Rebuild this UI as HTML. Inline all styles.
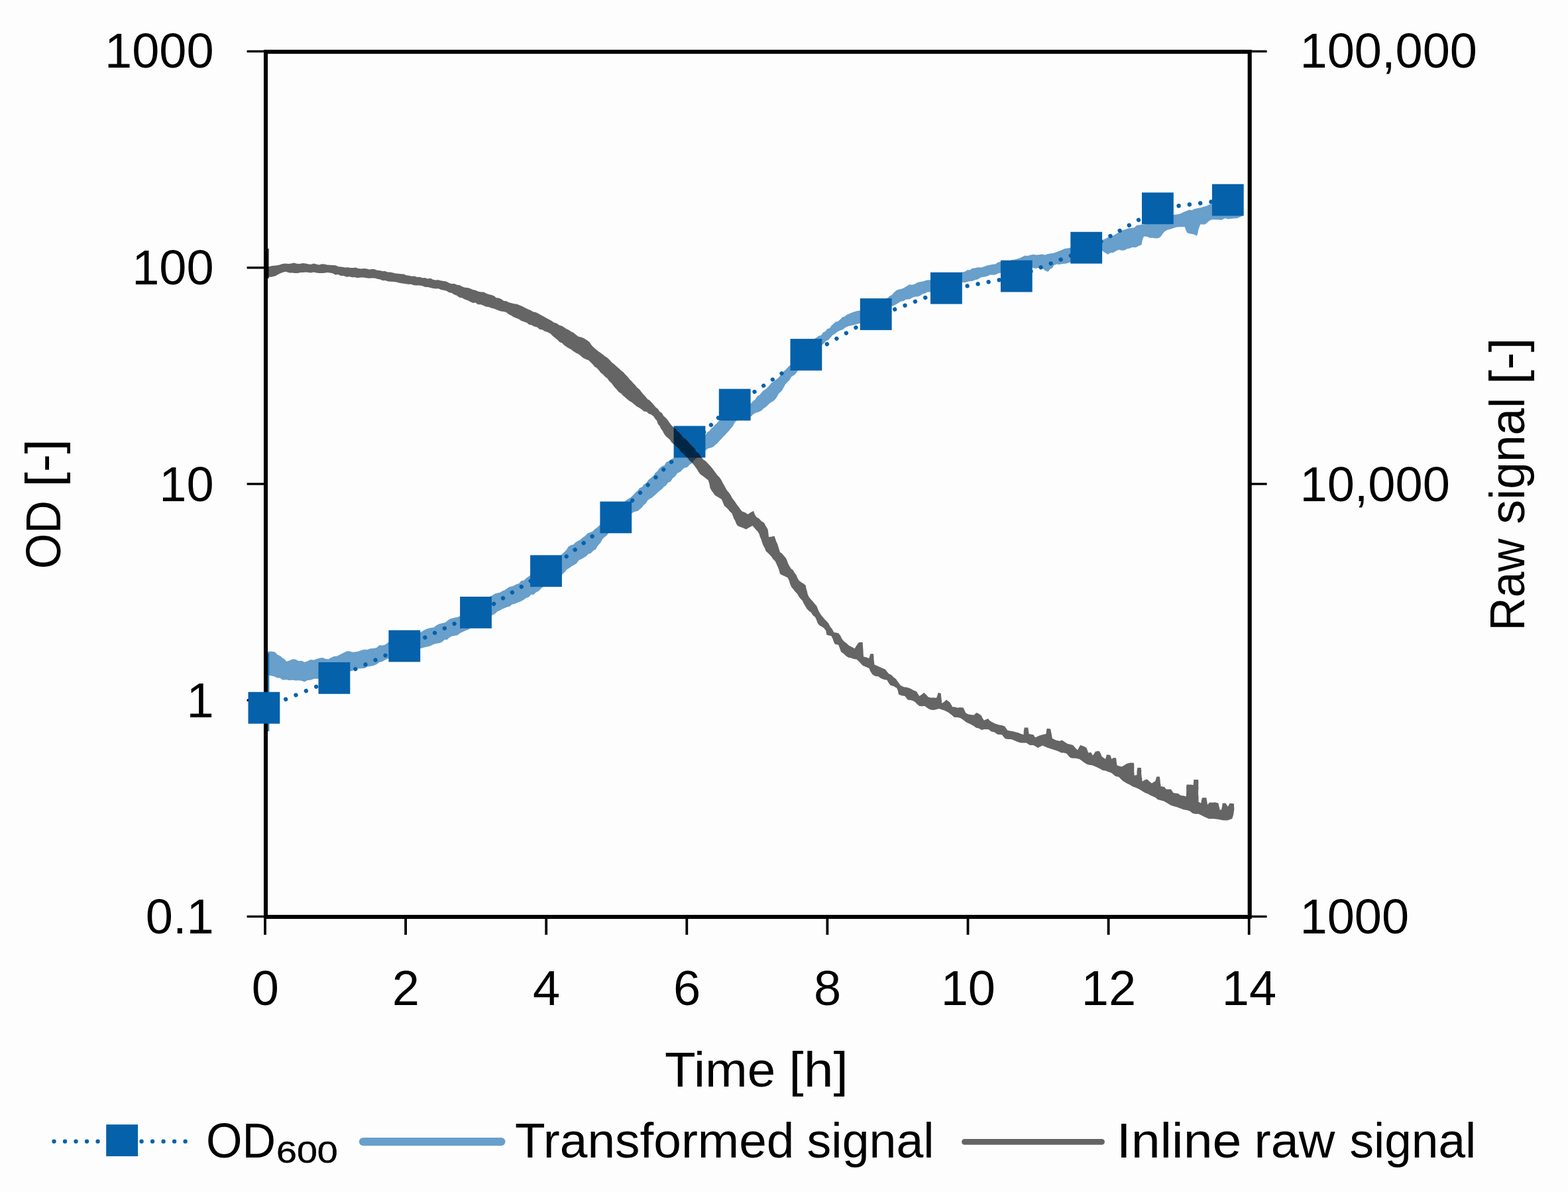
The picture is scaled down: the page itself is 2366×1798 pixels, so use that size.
<!DOCTYPE html>
<html lang="en"><head><meta charset="utf-8"><title>OD600, transformed signal and inline raw signal over time</title>
<style>html,body{margin:0;padding:0;background:#fdfdfd}body{width:2366px;height:1798px;overflow:hidden}svg{display:block}text{font-family:"Liberation Sans", sans-serif;fill:#000}</style>
</head><body>
<svg width="2366" height="1798" viewBox="0 0 2366 1798">
<rect x="0" y="0" width="2366" height="1798" fill="#fdfdfd"/>
<g id="chart">
<g id="transformed">
<path d="M404.6 1103 L404.6 985" stroke="#0561aa" stroke-opacity="0.85" stroke-width="3.4" fill="none"/>
<polygon points="403.0,983.0 405.2,982.4 409.8,982.7 414.3,983.3 418.8,987.6 423.3,989.7 426.4,992.4 429.4,994.3 432.4,997.8 437.2,996.3 441.4,994.2 445.7,994.5 450.5,996.9 455.3,996.7 459.5,998.7 463.5,997.4 468.5,995.1 473.8,995.5 478.3,993.7 483.0,992.4 486.7,992.1 491.0,993.7 495.7,994.2 499.6,991.9 504.1,990.0 508.3,989.7 512.3,987.7 515.7,986.1 519.3,984.2 522.8,982.4 527.1,982.3 532.4,983.7 536.6,983.3 540.9,982.4 545.1,980.9 549.5,979.8 554.4,980.0 559.0,978.3 563.4,978.0 568.4,977.0 572.3,973.3 577.1,973.4 581.6,972.2 586.1,968.8 590.1,968.8 594.4,965.1 598.1,965.7 602.2,962.6 606.7,963.6 610.3,960.2 614.2,958.8 618.4,959.4 622.7,957.5 627.1,955.2 631.1,953.8 635.0,953.5 639.8,950.4 644.4,948.5 649.5,947.1 654.3,946.5 659.0,943.0 663.0,940.9 667.6,939.9 672.2,938.8 677.1,934.8 680.8,933.1 685.6,931.8 690.0,931.1 694.7,929.0 697.7,926.3 701.6,923.5 705.0,921.7 708.3,919.9 711.8,919.2 715.6,916.0 718.2,912.8 722.3,912.5 725.1,908.5 729.3,907.6 732.7,904.0 735.8,903.6 738.7,900.2 742.5,898.2 746.9,895.5 750.6,894.5 754.3,893.7 758.3,891.2 761.3,890.3 765.4,887.4 768.5,885.3 772.4,884.6 776.4,883.0 779.4,881.3 783.0,880.3 786.6,876.1 790.5,875.6 794.5,871.8 799.5,868.3 802.8,865.1 806.1,863.8 810.4,861.0 813.6,860.3 817.0,857.2 819.9,853.4 824.3,850.8 827.9,850.3 831.0,846.2 834.6,845.0 838.4,842.3 841.4,839.3 845.2,838.7 848.3,835.8 851.5,832.8 854.8,829.3 857.4,824.9 861.2,822.3 865.0,821.4 868.6,817.9 871.9,815.9 875.6,814.3 879.0,811.1 882.9,808.5 886.5,804.6 890.0,803.2 894.0,801.8 897.1,798.4 900.9,795.7 904.4,792.4 907.9,789.4 910.9,785.6 913.8,782.6 916.5,781.0 919.9,778.7 923.4,775.6 925.6,771.9 929.4,769.1 932.0,766.0 935.6,765.0 938.9,761.0 941.8,757.8 944.6,754.7 947.8,752.6 951.9,750.2 954.9,747.2 958.5,743.3 962.3,739.9 965.3,736.0 968.7,734.8 971.4,730.9 975.5,728.2 978.3,723.9 982.0,721.1 985.8,718.0 988.8,713.3 992.1,710.5 995.2,706.2 999.2,703.0 1002.4,702.1 1005.6,697.0 1009.7,695.4 1012.8,693.7 1016.9,690.0 1020.4,688.1 1024.1,684.6 1026.8,681.4 1030.1,680.1 1033.8,678.6 1037.0,674.3 1040.8,673.1 1044.5,670.7 1048.2,668.7 1050.9,665.9 1054.3,662.9 1058.0,659.2 1061.1,658.6 1064.9,655.6 1067.4,652.0 1070.3,650.0 1073.0,646.5 1076.2,643.9 1079.2,640.4 1081.4,638.8 1084.8,634.8 1088.7,633.9 1092.2,629.8 1096.3,629.1 1099.7,626.4 1103.6,625.7 1107.0,623.8 1110.4,621.0 1114.8,619.2 1118.4,617.0 1122.3,613.8 1126.1,613.8 1129.6,610.6 1133.0,608.5 1136.6,604.8 1139.2,602.9 1142.5,597.7 1146.1,595.7 1149.0,592.3 1151.5,589.6 1154.5,587.7 1157.7,584.9 1161.3,581.0 1163.6,577.8 1167.0,576.0 1170.3,573.0 1173.3,570.9 1176.1,568.1 1178.7,565.1 1182.2,560.2 1185.2,557.9 1189.0,553.8 1192.4,550.7 1195.2,548.0 1198.0,545.5 1200.6,541.1 1204.0,539.4 1206.7,534.7 1209.1,533.7 1211.6,529.6 1214.7,526.5 1217.0,523.6 1220.3,521.5 1223.3,517.0 1225.8,514.4 1228.6,511.2 1231.5,509.5 1235.2,506.8 1239.0,505.7 1241.9,501.6 1245.2,500.0 1248.3,496.1 1252.0,495.0 1254.5,491.2 1257.9,488.3 1261.3,485.2 1264.1,484.9 1267.4,482.2 1270.9,478.4 1274.3,477.5 1277.8,474.7 1281.9,473.1 1286.0,471.2 1289.8,469.9 1293.4,469.0 1297.7,468.4 1301.4,466.8 1305.2,464.6 1308.7,463.3 1313.0,460.7 1316.6,460.1 1320.5,458.9 1323.9,457.2 1328.3,455.2 1331.5,453.9 1336.0,450.6 1339.3,449.4 1343.1,446.1 1345.4,445.3 1349.3,441.1 1351.9,438.6 1355.6,436.7 1359.6,436.0 1363.5,434.4 1368.2,431.8 1371.8,429.3 1376.7,429.5 1380.0,428.7 1384.5,425.9 1389.6,425.0 1394.4,424.1 1398.6,422.4 1403.9,422.3 1407.4,420.3 1411.9,420.5 1415.5,419.5 1419.6,417.5 1424.4,418.3 1427.4,417.5 1432.3,414.3 1436.1,414.3 1439.8,413.0 1443.7,412.5 1447.3,411.7 1451.8,410.5 1456.1,409.8 1459.6,407.2 1463.5,407.3 1467.1,404.7 1471.4,404.2 1475.4,403.3 1480.8,403.4 1485.4,402.0 1489.5,400.6 1493.4,399.8 1497.6,398.7 1501.9,398.6 1506.1,395.6 1509.7,395.1 1514.3,395.0 1518.3,394.4 1523.1,393.8 1527.0,392.0 1531.2,391.5 1534.7,390.6 1538.3,389.5 1542.6,387.4 1546.3,385.5 1550.5,386.1 1554.3,384.7 1559.3,383.7 1563.2,384.5 1567.9,384.2 1572.3,383.6 1577.0,384.5 1581.4,382.9 1586.2,382.3 1590.0,381.8 1595.2,379.8 1599.5,378.3 1603.3,376.5 1607.0,374.9 1610.9,374.6 1615.2,373.8 1619.6,372.2 1623.2,372.0 1627.3,372.1 1631.3,371.2 1634.8,369.7 1639.5,368.2 1643.6,365.7 1647.2,365.0 1651.2,364.1 1654.7,364.3 1659.1,364.1 1663.2,362.0 1667.7,360.3 1671.8,358.1 1676.5,357.0 1680.9,354.8 1684.7,352.4 1687.6,350.7 1691.3,348.7 1695.6,346.7 1699.0,345.8 1703.4,344.3 1706.5,344.0 1711.4,343.4 1715.4,339.8 1718.9,339.5 1722.9,338.5 1726.6,338.5 1731.3,336.1 1734.8,335.5 1739.2,334.9 1742.5,332.7 1746.8,331.6 1750.4,329.3 1754.4,328.9 1759.0,327.5 1762.6,326.3 1766.7,325.4 1770.8,324.0 1775.5,323.4 1780.6,322.6 1784.6,320.6 1789.5,318.6 1794.4,316.5 1798.7,317.1 1802.8,314.9 1807.6,314.1 1811.9,313.3 1816.2,311.8 1819.9,311.0 1825.0,308.4 1828.7,307.8 1833.4,308.2 1836.8,305.2 1841.5,305.1 1845.5,305.3 1849.8,304.4 1854.7,302.5 1858.9,303.0 1863.1,301.8 1867.2,300.7 1872.1,301.3 1876.0,300.0 1876.0,325.0 1870.9,327.6 1866.5,329.2 1861.8,329.5 1856.9,329.9 1853.0,330.4 1848.7,329.3 1843.4,331.7 1839.2,331.6 1834.7,331.3 1828.7,331.3 1825.0,332.8 1821.9,335.6 1818.4,338.5 1811.2,338.5 1809.5,342.9 1808.1,347.5 1807.2,352.5 1805.7,355.7 1801.4,353.4 1796.0,352.5 1791.3,351.2 1789.5,347.2 1787.7,342.2 1784.0,342.2 1779.4,342.3 1774.9,342.8 1770.8,344.0 1765.8,345.7 1761.5,346.7 1756.9,349.4 1754.0,353.2 1751.3,357.3 1747.9,359.3 1743.8,359.5 1739.1,358.7 1734.8,358.8 1730.9,357.1 1726.1,356.6 1724.5,359.7 1723.4,364.3 1722.5,369.3 1718.0,371.1 1713.8,373.2 1708.5,372.9 1704.4,374.7 1700.8,375.3 1696.7,377.4 1692.6,377.7 1688.4,376.7 1684.5,378.3 1679.8,381.3 1675.7,381.2 1671.9,383.8 1667.8,381.5 1663.2,378.3 1659.6,379.3 1654.7,382.3 1651.0,383.6 1647.0,385.1 1643.7,385.5 1639.2,387.1 1635.0,388.1 1631.2,388.7 1627.1,391.5 1622.7,391.8 1619.1,394.7 1615.2,395.5 1610.9,396.9 1607.3,397.7 1603.1,397.9 1598.5,398.9 1594.5,398.5 1590.5,400.0 1588.0,404.3 1584.8,405.8 1581.4,410.0 1576.7,408.1 1572.0,403.7 1566.9,404.0 1562.2,404.9 1557.9,403.7 1553.4,403.4 1549.4,404.4 1545.7,406.0 1542.2,406.7 1538.1,407.0 1534.1,408.3 1529.7,407.5 1526.3,409.2 1521.8,410.2 1517.2,411.2 1513.6,411.7 1509.7,411.4 1505.7,412.6 1502.0,414.5 1497.6,414.7 1494.0,414.6 1489.5,416.8 1484.9,417.8 1480.4,418.3 1475.9,421.3 1471.4,422.3 1466.9,424.1 1461.3,424.4 1456.3,426.1 1451.8,425.9 1447.8,426.5 1444.1,428.5 1440.1,430.6 1435.5,430.4 1431.9,433.1 1428.3,434.1 1423.6,433.4 1420.3,435.8 1415.9,436.5 1412.2,437.0 1407.5,438.7 1403.9,440.4 1399.7,440.4 1395.8,442.6 1392.1,443.5 1388.5,446.1 1384.4,447.4 1380.9,447.6 1377.0,448.8 1372.5,451.5 1367.4,451.4 1363.4,453.9 1359.2,454.8 1354.8,457.6 1350.1,460.2 1345.6,462.0 1341.9,463.3 1338.5,466.5 1334.4,467.8 1330.7,471.0 1327.1,473.0 1323.5,474.0 1320.0,476.0 1315.8,476.9 1312.8,479.0 1308.7,480.7 1305.2,484.8 1301.7,484.8 1297.7,487.4 1292.9,489.1 1288.6,490.3 1284.7,490.9 1280.5,492.0 1276.0,493.7 1271.7,497.3 1267.7,498.4 1263.6,500.4 1259.7,503.7 1256.4,505.6 1253.3,509.1 1250.0,513.1 1246.9,514.1 1243.7,517.5 1240.7,520.0 1237.9,523.2 1234.6,526.5 1232.3,528.1 1229.1,531.6 1226.6,536.4 1223.5,537.4 1220.7,541.1 1217.4,544.1 1214.8,547.8 1211.6,550.5 1209.6,554.5 1206.1,556.2 1203.3,559.7 1200.6,563.9 1197.5,566.3 1194.0,568.4 1191.4,573.2 1188.7,575.8 1185.2,579.6 1182.6,584.3 1180.6,588.1 1178.4,590.7 1175.1,593.4 1172.9,597.8 1170.7,601.3 1167.0,604.9 1163.2,607.0 1160.3,609.3 1155.7,614.1 1152.6,615.8 1148.9,619.5 1145.2,621.2 1141.0,622.4 1136.7,624.7 1133.0,628.5 1128.1,628.7 1123.8,629.9 1119.4,633.2 1115.7,633.8 1111.0,634.8 1108.2,638.1 1105.8,642.9 1103.0,646.1 1100.1,649.8 1097.2,652.7 1094.7,655.6 1091.7,658.4 1088.6,662.0 1085.6,665.0 1082.6,668.4 1079.8,670.8 1076.6,673.7 1072.6,675.6 1069.0,676.3 1064.9,679.1 1062.0,682.9 1058.7,684.0 1055.6,687.1 1053.2,689.6 1049.6,692.0 1046.8,694.9 1044.0,699.0 1040.8,700.7 1037.1,704.8 1032.8,705.7 1029.8,708.3 1026.3,712.1 1022.4,713.5 1018.4,719.0 1015.4,721.0 1011.8,726.6 1008.2,727.8 1004.8,732.5 1001.7,734.6 998.5,738.1 994.8,740.8 991.0,744.2 987.5,747.5 984.1,750.6 980.4,752.6 977.5,754.6 974.2,759.7 971.7,761.4 968.4,765.8 965.1,768.5 962.3,770.7 957.3,771.9 953.3,774.3 950.1,776.4 946.5,779.4 943.6,782.7 940.3,786.0 937.1,788.7 934.2,792.2 931.1,794.2 927.6,797.3 924.5,798.7 921.6,803.1 918.1,804.3 915.3,808.0 911.7,810.5 909.1,813.2 906.8,817.7 904.5,820.6 901.5,824.1 899.0,828.5 895.2,830.7 891.2,834.7 888.0,835.4 884.4,839.1 880.9,841.2 876.9,843.6 873.6,845.1 869.9,850.0 866.6,852.0 862.8,853.9 859.4,856.6 855.1,859.3 852.1,862.9 848.3,866.5 844.8,868.1 841.4,871.4 838.1,872.2 834.8,875.5 831.4,878.7 827.6,879.4 824.0,881.7 821.3,884.3 817.6,886.4 813.5,891.1 808.5,893.7 805.2,896.9 801.5,896.8 797.8,900.8 794.0,901.9 790.5,904.5 786.1,907.1 781.9,908.4 776.8,910.7 772.4,911.8 769.3,914.7 765.3,915.6 762.0,917.0 757.7,918.8 754.3,920.8 750.8,922.2 746.6,926.1 742.5,928.0 738.7,929.5 735.1,932.7 732.1,934.3 728.9,935.7 725.3,937.8 721.0,941.5 718.3,941.9 714.4,944.5 710.8,946.0 707.4,949.6 703.7,950.8 699.5,952.4 694.2,954.9 690.6,958.1 685.6,958.9 682.1,959.5 677.9,961.8 674.6,965.0 671.0,964.8 667.6,967.9 663.5,970.1 658.2,970.7 654.5,971.8 649.5,974.3 645.1,975.5 640.3,976.6 635.0,977.9 630.7,978.4 626.8,979.3 622.9,981.3 618.5,981.8 614.8,983.5 610.6,984.6 606.8,986.6 602.3,987.4 598.3,989.3 594.6,989.5 590.2,992.8 586.1,993.3 581.6,995.2 577.1,997.8 572.3,999.0 568.0,1002.3 563.7,1004.1 559.0,1005.0 554.3,1005.5 550.1,1008.0 545.9,1008.3 540.9,1008.6 536.5,1009.5 533.1,1011.3 529.2,1012.3 525.0,1013.0 521.4,1013.4 516.5,1015.7 512.6,1016.5 508.6,1016.2 504.7,1017.1 501.1,1020.4 496.2,1020.1 493.0,1019.9 487.9,1022.9 484.3,1022.6 480.3,1024.0 474.6,1023.8 468.5,1025.8 464.3,1026.0 459.5,1028.5 455.4,1026.9 450.4,1026.2 446.1,1026.6 441.4,1025.8 436.7,1026.3 432.1,1025.2 426.9,1025.8 422.6,1022.7 418.1,1022.6 414.3,1020.4 409.9,1019.4 405.2,1018.6 403.0,1018.0" fill="#0561aa" fill-opacity="0.6" stroke-linejoin="round"/>
</g>
<g id="axes" stroke="#000" fill="none">
<rect x="401.0" y="78.1" width="1484.7" height="1304.9" stroke-width="6.1"/>
<line x1="372.6" y1="77.5" x2="401.0" y2="77.5" stroke-width="3.4"/>
<line x1="1885.7" y1="77.5" x2="1911.6" y2="77.5" stroke-width="3.4"/>
<line x1="372.6" y1="403.8" x2="401.0" y2="403.8" stroke-width="3.4"/>
<line x1="372.6" y1="730.0" x2="401.0" y2="730.0" stroke-width="3.4"/>
<line x1="1885.7" y1="730.0" x2="1911.6" y2="730.0" stroke-width="3.4"/>
<line x1="372.6" y1="1056.2" x2="401.0" y2="1056.2" stroke-width="3.4"/>
<line x1="372.6" y1="1382.5" x2="401.0" y2="1382.5" stroke-width="3.4"/>
<line x1="1885.7" y1="1382.5" x2="1911.6" y2="1382.5" stroke-width="3.4"/>
<line x1="400.0" y1="1383.0" x2="400.0" y2="1410" stroke-width="3.8"/>
<line x1="612.1" y1="1383.0" x2="612.1" y2="1410" stroke-width="3.8"/>
<line x1="824.2" y1="1383.0" x2="824.2" y2="1410" stroke-width="3.8"/>
<line x1="1036.3" y1="1383.0" x2="1036.3" y2="1410" stroke-width="3.8"/>
<line x1="1248.4" y1="1383.0" x2="1248.4" y2="1410" stroke-width="3.8"/>
<line x1="1460.5" y1="1383.0" x2="1460.5" y2="1410" stroke-width="3.8"/>
<line x1="1672.6" y1="1383.0" x2="1672.6" y2="1410" stroke-width="3.8"/>
<line x1="1884.7" y1="1383.0" x2="1884.7" y2="1410" stroke-width="3.8"/>
</g>
<g id="od600">
<line x1="415.8" y1="1061.1" x2="492.4" y2="1029.5" stroke="#0561aa" stroke-width="6.3" stroke-linecap="round" stroke-dasharray="0.01 16.58"/>
<line x1="521.3" y1="1016.0" x2="596.7" y2="981.9" stroke="#0561aa" stroke-width="6.3" stroke-linecap="round" stroke-dasharray="0.01 16.53"/>
<line x1="626.5" y1="968.5" x2="700.4" y2="933.9" stroke="#0561aa" stroke-width="6.3" stroke-linecap="round" stroke-dasharray="0.01 16.30"/>
<line x1="731.3" y1="919.5" x2="800.7" y2="876.4" stroke="#0561aa" stroke-width="6.3" stroke-linecap="round" stroke-dasharray="0.01 16.32"/>
<line x1="841.7" y1="849.5" x2="906.6" y2="798.9" stroke="#0561aa" stroke-width="6.3" stroke-linecap="round" stroke-dasharray="0.01 16.45"/>
<line x1="942.4" y1="766.5" x2="1024.8" y2="685.1" stroke="#0561aa" stroke-width="6.3" stroke-linecap="round" stroke-dasharray="0.01 16.54"/>
<line x1="1062.1" y1="651.9" x2="1094.8" y2="619.5" stroke="#0561aa" stroke-width="6.3" stroke-linecap="round" stroke-dasharray="0.01 15.33"/>
<line x1="1124.9" y1="600.2" x2="1193.0" y2="554.1" stroke="#0561aa" stroke-width="6.3" stroke-linecap="round" stroke-dasharray="0.01 16.46"/>
<line x1="1233.4" y1="527.4" x2="1305.9" y2="485.8" stroke="#0561aa" stroke-width="6.3" stroke-linecap="round" stroke-dasharray="0.01 16.71"/>
<line x1="1334.8" y1="472.5" x2="1411.7" y2="443.1" stroke="#0561aa" stroke-width="6.3" stroke-linecap="round" stroke-dasharray="0.01 16.44"/>
<line x1="1443.6" y1="434.3" x2="1523.6" y2="419.3" stroke="#0561aa" stroke-width="6.3" stroke-linecap="round" stroke-dasharray="0.01 16.27"/>
<line x1="1555.5" y1="409.2" x2="1630.9" y2="379.7" stroke="#0561aa" stroke-width="6.3" stroke-linecap="round" stroke-dasharray="0.01 16.17"/>
<line x1="1661.3" y1="364.2" x2="1732.2" y2="323.6" stroke="#0561aa" stroke-width="6.3" stroke-linecap="round" stroke-dasharray="0.01 16.33"/>
<line x1="1762.3" y1="312.5" x2="1843.8" y2="302.5" stroke="#0561aa" stroke-width="6.3" stroke-linecap="round" stroke-dasharray="0.01 16.41"/>
<rect x="374.5" y="1043.8" width="47.8" height="47.8" fill="#0561aa"/>
<rect x="480.5" y="998.9" width="47.8" height="47.8" fill="#0561aa"/>
<rect x="586.4" y="950.6" width="47.8" height="47.8" fill="#0561aa"/>
<rect x="694.1" y="900.0" width="47.8" height="47.8" fill="#0561aa"/>
<rect x="800.1" y="837.4" width="47.8" height="47.8" fill="#0561aa"/>
<rect x="905.4" y="756.5" width="47.8" height="47.8" fill="#0561aa"/>
<rect x="1016.6" y="642.5" width="47.8" height="47.8" fill="#0561aa"/>
<rect x="1084.8" y="586.6" width="47.8" height="47.8" fill="#0561aa"/>
<rect x="1192.5" y="511.1" width="47.8" height="47.8" fill="#0561aa"/>
<rect x="1297.8" y="450.1" width="47.8" height="47.8" fill="#0561aa"/>
<rect x="1404.0" y="410.8" width="47.8" height="47.8" fill="#0561aa"/>
<rect x="1509.9" y="392.7" width="47.8" height="47.8" fill="#0561aa"/>
<rect x="1615.3" y="349.8" width="47.8" height="47.8" fill="#0561aa"/>
<rect x="1723.0" y="290.4" width="47.8" height="47.8" fill="#0561aa"/>
<rect x="1828.9" y="277.7" width="47.8" height="47.8" fill="#0561aa"/>
</g>
<g id="raw">
<path d="M404.4 375 L404.4 420" stroke="#000" stroke-opacity="0.8" stroke-width="2.6" fill="none"/>
<polygon points="403.0,402.4 404.4,402.4 410.4,400.9 416.2,400.6 421.0,399.8 426.1,398.0 430.7,397.5 435.1,398.1 439.3,397.5 443.8,396.6 447.9,397.7 452.4,398.0 456.7,397.0 461.4,397.5 465.6,398.6 469.5,398.7 473.3,397.4 477.2,398.5 481.4,399.5 485.8,398.3 489.9,398.5 493.6,399.4 497.6,399.7 502.1,400.0 506.3,400.3 511.0,402.2 515.5,402.6 520.5,403.5 524.7,403.3 528.9,404.1 532.9,404.0 536.7,403.5 540.6,405.1 545.1,405.6 548.7,404.9 552.8,405.3 556.8,406.6 560.9,406.0 564.6,405.9 569.3,407.8 573.0,408.1 577.2,408.9 581.1,409.1 585.1,410.4 588.8,410.4 593.4,411.4 597.1,412.4 601.2,412.7 604.9,413.3 609.4,413.4 613.1,415.3 617.3,415.7 621.6,416.7 625.6,416.4 629.3,418.0 633.3,417.8 637.3,419.2 641.2,419.0 645.1,420.6 649.6,419.8 653.4,421.8 657.1,422.6 661.3,422.3 665.2,423.3 669.5,424.1 673.4,424.4 677.9,427.0 681.5,427.9 685.9,428.1 689.7,429.7 693.4,429.9 697.8,432.5 701.7,433.7 705.6,434.1 709.7,435.2 713.5,437.1 717.5,437.8 721.3,439.4 726.0,440.4 729.8,440.4 734.0,442.8 737.6,443.9 741.8,444.9 745.8,446.5 748.8,449.2 752.4,449.5 756.3,451.1 760.0,453.7 764.3,454.2 767.9,456.2 772.1,457.2 776.1,458.2 780.1,458.8 784.4,460.5 788.6,462.2 792.2,464.3 796.9,466.5 800.7,468.0 804.8,470.4 808.4,471.0 812.5,473.0 816.3,475.2 820.2,477.3 823.6,479.3 827.8,481.6 831.7,483.4 835.8,486.4 840.1,487.7 843.8,490.5 848.2,491.7 851.6,494.0 855.3,496.4 858.5,497.8 861.8,500.3 865.3,501.7 868.5,504.6 872.8,507.7 877.7,508.7 881.5,510.5 886.2,513.4 889.5,515.9 892.3,520.3 895.0,523.3 898.4,526.3 902.0,529.3 905.6,531.8 909.3,534.5 912.6,537.3 916.3,539.6 920.0,543.0 923.5,547.0 926.9,549.4 930.1,552.5 933.7,555.5 937.4,559.1 940.4,561.3 944.0,565.2 947.2,568.4 950.1,572.2 952.8,574.7 955.6,577.9 958.1,580.6 961.3,584.4 964.5,586.9 967.3,590.6 970.3,594.2 974.0,598.2 976.7,601.8 980.4,604.0 983.9,607.7 986.6,610.7 989.4,614.2 993.0,616.9 995.5,620.9 998.8,622.9 1001.2,627.2 1004.3,630.0 1007.5,633.4 1010.3,637.7 1013.4,641.8 1016.6,644.7 1019.8,647.2 1022.6,649.9 1025.4,652.9 1028.2,655.9 1031.2,660.1 1034.2,662.1 1036.8,664.7 1040.0,668.0 1042.5,670.9 1045.6,673.7 1048.2,676.6 1050.8,681.4 1053.3,682.8 1056.0,686.0 1058.6,690.0 1061.6,693.5 1064.9,695.4 1067.9,698.7 1071.4,702.5 1074.3,705.7 1076.9,709.2 1080.3,713.7 1082.6,716.9 1085.7,720.0 1088.6,724.3 1090.5,728.3 1093.1,732.7 1095.3,736.8 1097.1,740.0 1099.7,742.7 1102.4,746.4 1104.8,751.2 1107.1,754.3 1109.4,757.2 1112.3,761.7 1114.8,764.8 1117.3,768.5 1120.0,771.4 1124.2,773.1 1128.6,775.7 1132.9,772.8 1137.1,770.7 1138.9,776.1 1141.4,780.0 1145.2,782.1 1148.8,786.1 1152.9,788.6 1155.4,793.2 1158.6,798.6 1159.3,803.5 1160.0,810.0 1164.4,809.6 1168.6,808.6 1169.7,811.9 1171.5,817.2 1173.0,820.2 1174.3,824.3 1175.7,829.0 1177.1,832.9 1180.2,835.0 1182.5,838.1 1185.7,841.4 1187.6,845.4 1189.3,850.2 1191.4,854.3 1193.9,857.9 1196.7,860.1 1199.2,864.5 1201.4,867.1 1203.3,871.7 1205.7,875.7 1209.3,878.6 1212.7,880.6 1215.7,882.9 1216.6,888.0 1217.9,892.2 1218.6,895.7 1220.5,900.2 1223.1,903.6 1226.3,906.9 1229.6,911.0 1232.6,914.4 1234.4,919.4 1236.6,923.9 1239.3,927.9 1241.8,931.1 1244.8,934.6 1247.7,937.4 1250.2,940.2 1252.8,945.4 1255.5,948.5 1258.3,953.8 1265.1,955.1 1267.9,958.6 1270.5,963.8 1273.3,967.3 1277.0,970.0 1281.4,974.1 1285.6,976.0 1289.6,978.2 1293.1,972.6 1296.3,968.7 1301.8,968.7 1301.8,972.5 1302.3,978.1 1302.6,982.4 1302.7,985.4 1303.1,990.4 1307.3,991.6 1311.3,993.1 1313.3,986.3 1318.0,986.3 1318.5,990.9 1318.5,994.7 1319.0,998.4 1319.4,1002.6 1324.0,1004.6 1328.9,1006.7 1335.7,1009.4 1338.4,1012.9 1341.1,1016.2 1345.0,1018.1 1348.6,1021.8 1352.0,1024.3 1355.6,1029.5 1358.8,1033.8 1363.7,1036.3 1368.4,1036.8 1373.7,1038.6 1378.5,1041.2 1383.2,1043.3 1387.2,1050.1 1391.0,1047.5 1394.0,1044.7 1397.2,1047.6 1400.8,1051.5 1405.1,1052.4 1408.6,1052.3 1413.0,1052.8 1414.6,1048.5 1415.7,1044.7 1419.8,1046.0 1420.2,1051.0 1420.8,1055.8 1421.2,1061.0 1424.7,1058.4 1428.0,1055.5 1433.4,1059.6 1437.4,1066.4 1440.0,1066.3 1444.7,1067.4 1448.9,1066.9 1453.6,1067.6 1455.8,1072.2 1457.6,1075.8 1461.5,1077.5 1466.1,1078.2 1469.9,1078.5 1473.2,1075.1 1476.8,1076.4 1480.7,1079.2 1482.5,1083.1 1484.8,1086.6 1490.9,1083.9 1493.8,1087.2 1497.0,1089.3 1502.3,1091.7 1507.8,1093.4 1511.7,1093.9 1516.0,1095.5 1520.1,1101.6 1524.3,1102.5 1528.4,1102.9 1532.3,1104.3 1536.5,1105.3 1540.2,1106.7 1544.5,1108.3 1544.8,1102.3 1545.8,1097.5 1551.3,1097.5 1551.9,1102.6 1552.6,1107.0 1559.4,1108.3 1562.1,1112.4 1567.8,1109.7 1573.0,1108.3 1578.4,1107.0 1578.8,1103.2 1579.8,1098.8 1585.2,1099.5 1586.2,1104.7 1587.0,1108.9 1587.9,1113.8 1593.3,1116.6 1598.8,1117.8 1602.8,1116.5 1607.0,1119.4 1611.0,1121.9 1614.9,1122.7 1619.1,1123.9 1622.6,1128.1 1625.9,1131.4 1628.0,1127.6 1630.0,1123.9 1635.0,1125.5 1639.5,1128.0 1642.2,1135.5 1646.2,1134.8 1649.0,1139.6 1653.0,1133.4 1658.5,1132.8 1660.6,1136.0 1662.5,1140.9 1668.0,1145.0 1670.0,1138.2 1675.4,1138.9 1677.4,1145.0 1680.2,1142.9 1684.2,1143.6 1684.7,1149.0 1685.6,1154.5 1692.4,1156.5 1696.5,1154.3 1700.5,1151.8 1705.7,1150.6 1710.9,1150.8 1711.3,1154.9 1711.2,1160.0 1711.2,1164.5 1711.8,1169.8 1715.4,1168.9 1715.6,1162.9 1716.3,1158.0 1721.7,1158.0 1722.3,1162.4 1722.1,1165.8 1722.5,1170.5 1723.3,1174.5 1723.5,1178.8 1727.3,1176.5 1730.8,1175.2 1734.1,1178.5 1738.0,1181.6 1743.4,1178.0 1745.2,1171.6 1749.8,1171.6 1750.5,1176.0 1750.8,1180.5 1751.6,1186.1 1757.0,1187.0 1759.7,1190.6 1766.9,1190.6 1770.6,1196.0 1777.8,1196.9 1781.4,1199.7 1786.8,1200.6 1789.6,1201.5 1790.1,1197.1 1790.2,1192.5 1790.1,1187.0 1790.5,1183.4 1797.7,1183.4 1800.4,1184.3 1801.1,1179.9 1801.3,1176.1 1808.1,1176.1 1808.4,1180.0 1808.2,1183.6 1808.4,1189.4 1808.1,1193.0 1808.0,1197.8 1808.6,1202.1 1808.5,1205.8 1808.5,1209.6 1812.2,1211.4 1813.0,1206.7 1814.0,1203.3 1820.3,1203.3 1821.3,1209.0 1822.1,1214.1 1824.8,1210.5 1829.6,1210.6 1833.7,1210.3 1838.4,1211.4 1839.4,1215.7 1840.7,1221.4 1842.9,1221.4 1844.0,1216.9 1844.7,1211.4 1849.3,1211.4 1852.9,1216.8 1855.6,1211.4 1861.9,1212.3 1862.0,1215.8 1862.4,1220.5 1861.0,1229.5 1859.2,1234.9 1852.0,1237.6 1844.7,1237.2 1840.2,1236.3 1835.7,1235.4 1830.0,1234.9 1823.9,1234.9 1817.6,1232.2 1812.8,1229.8 1808.5,1227.7 1803.8,1227.8 1799.5,1226.8 1795.0,1223.2 1790.8,1222.0 1786.1,1221.3 1781.4,1219.6 1776.2,1217.6 1770.6,1215.9 1766.3,1214.5 1761.5,1211.4 1756.3,1208.4 1750.7,1206.9 1746.9,1206.0 1743.6,1202.9 1739.6,1201.3 1736.2,1199.7 1731.8,1197.3 1728.0,1196.1 1723.5,1193.3 1718.6,1190.2 1713.6,1187.9 1708.8,1186.3 1704.4,1183.5 1700.0,1181.6 1693.7,1177.5 1688.3,1172.1 1682.9,1170.8 1677.4,1166.0 1673.2,1164.6 1668.1,1162.5 1663.9,1161.9 1660.1,1159.7 1655.5,1157.6 1651.7,1155.8 1647.8,1154.3 1643.2,1153.7 1639.5,1152.4 1635.9,1150.3 1632.4,1147.6 1628.6,1145.0 1623.8,1143.8 1619.5,1143.7 1615.0,1142.9 1612.1,1139.9 1609.6,1136.8 1605.2,1135.5 1601.5,1135.5 1596.4,1133.1 1592.0,1131.4 1586.4,1129.7 1581.1,1128.0 1576.8,1126.3 1573.0,1124.6 1566.2,1128.0 1559.4,1123.9 1554.0,1123.9 1548.5,1120.6 1544.4,1120.6 1540.4,1120.6 1535.2,1118.9 1529.6,1116.5 1525.7,1114.9 1521.6,1115.0 1517.3,1114.5 1514.3,1111.6 1511.9,1108.3 1505.1,1107.7 1500.6,1104.4 1495.9,1103.5 1491.6,1100.2 1486.5,1100.1 1480.7,1100.9 1476.9,1098.6 1473.3,1098.0 1469.9,1095.5 1465.7,1093.1 1461.4,1091.0 1457.6,1089.3 1453.7,1086.0 1449.5,1083.2 1444.9,1082.1 1440.0,1081.9 1436.1,1078.6 1430.7,1074.5 1426.0,1072.0 1421.5,1070.6 1417.1,1069.1 1413.2,1070.0 1409.0,1071.1 1404.9,1070.8 1400.8,1069.1 1395.4,1065.0 1391.1,1065.3 1387.2,1065.0 1383.8,1062.1 1380.8,1059.1 1377.7,1056.9 1373.4,1055.9 1369.6,1055.5 1365.5,1050.1 1360.5,1049.3 1356.0,1047.4 1354.9,1042.3 1353.3,1037.9 1348.3,1035.0 1343.8,1033.8 1341.1,1030.4 1338.4,1025.7 1333.7,1024.9 1328.9,1023.0 1325.1,1020.3 1320.9,1020.1 1316.7,1017.5 1313.8,1013.5 1311.3,1008.0 1306.2,1005.8 1301.8,1004.0 1298.4,1000.3 1295.4,996.9 1292.3,994.5 1288.1,994.0 1284.3,992.4 1280.1,991.8 1276.6,989.6 1273.0,985.9 1269.2,983.6 1266.9,977.3 1265.1,972.8 1259.7,971.4 1257.7,967.3 1256.3,962.9 1254.3,959.2 1247.5,957.8 1246.1,951.1 1243.3,947.5 1240.1,945.3 1236.7,943.5 1233.9,940.2 1232.0,935.1 1229.9,930.7 1226.7,928.3 1223.8,923.8 1220.6,921.5 1217.6,918.5 1215.7,915.2 1212.9,910.4 1210.9,906.3 1208.3,903.6 1205.5,900.3 1203.0,895.5 1200.0,892.7 1197.2,888.9 1194.3,885.7 1192.1,880.8 1190.7,875.7 1188.6,871.4 1184.9,869.4 1180.8,867.8 1177.1,865.7 1176.0,861.8 1174.5,857.1 1172.6,853.1 1171.4,850.0 1169.3,846.1 1166.5,843.5 1164.3,840.0 1161.6,837.0 1158.5,833.8 1155.7,831.4 1153.8,826.4 1151.7,822.8 1150.0,818.6 1148.5,813.6 1146.9,810.0 1145.7,805.7 1143.5,801.9 1140.9,799.2 1137.8,795.7 1135.7,792.9 1130.8,795.5 1125.7,798.6 1121.2,796.2 1117.3,795.1 1112.9,792.9 1110.9,789.7 1109.3,785.6 1107.4,782.2 1105.8,777.9 1104.3,774.3 1101.3,771.6 1098.9,768.4 1096.0,765.5 1092.9,762.9 1090.8,757.4 1088.6,752.9 1083.7,750.1 1078.6,747.1 1076.3,743.4 1073.6,740.0 1071.4,735.7 1070.3,729.6 1068.6,724.3 1065.0,721.5 1061.2,718.4 1057.1,715.7 1054.4,712.2 1052.0,708.3 1049.9,705.3 1047.1,701.4 1043.5,697.2 1040.3,694.6 1036.8,690.0 1033.6,687.4 1031.1,684.2 1027.9,681.9 1025.2,677.9 1022.1,674.8 1019.3,672.6 1016.6,670.0 1013.6,667.4 1010.6,662.9 1007.5,660.5 1004.3,657.4 1002.1,654.5 999.7,649.8 997.2,646.4 995.5,642.7 992.7,639.6 991.1,634.5 988.2,631.3 986.2,628.0 982.4,625.3 978.8,623.9 975.7,620.9 971.6,620.5 968.1,617.6 964.8,615.2 960.7,613.1 957.1,609.9 953.6,606.9 950.0,605.0 946.6,602.2 943.2,599.3 939.9,596.5 937.3,593.4 933.7,591.5 930.8,587.7 928.1,585.0 925.7,582.0 922.8,577.9 919.6,575.3 916.4,570.8 912.8,567.9 909.3,564.3 906.3,562.1 903.7,558.4 900.2,554.7 897.2,553.2 894.8,550.0 891.6,546.7 888.2,543.5 884.3,542.0 880.5,540.2 876.7,537.2 872.9,534.1 869.4,532.4 865.1,529.7 861.2,526.8 857.7,525.0 854.2,522.8 851.1,520.6 848.2,517.5 844.4,516.1 841.4,512.8 838.0,510.0 834.2,507.1 830.6,503.3 826.3,501.1 822.2,499.7 818.6,497.6 814.3,496.7 810.4,493.6 806.1,492.4 802.4,490.4 798.1,489.4 794.9,486.7 790.5,485.3 786.7,484.0 783.1,481.6 779.6,479.9 775.0,478.2 771.2,475.8 767.4,474.1 763.8,471.1 760.0,470.0 755.6,469.4 750.7,467.7 746.0,465.7 741.8,464.8 737.5,463.1 733.6,462.7 729.8,460.9 725.5,459.3 721.2,459.2 717.3,456.5 713.6,456.9 709.3,454.9 705.5,452.9 701.1,451.4 697.1,449.3 693.2,448.7 689.2,445.8 685.1,444.3 681.8,442.0 677.3,441.0 673.6,438.8 669.5,437.7 665.4,437.1 661.5,435.2 657.8,435.5 653.6,435.0 649.3,434.0 645.5,432.9 641.5,433.0 637.4,431.3 633.3,430.5 628.9,430.6 624.5,430.2 620.3,428.8 615.4,428.7 611.1,428.1 607.1,427.4 602.5,426.8 598.0,425.5 594.1,425.1 589.9,424.7 585.6,424.6 581.4,423.0 577.5,423.3 573.7,421.6 569.2,420.8 565.4,419.6 560.9,419.6 556.7,419.7 552.4,419.3 548.3,418.6 544.1,418.6 539.7,419.3 535.7,418.2 531.4,418.2 527.4,417.2 522.9,417.8 518.7,415.9 514.2,416.0 510.5,414.0 506.1,414.4 502.0,412.2 497.6,411.5 493.9,411.0 489.6,411.7 485.6,412.0 481.7,411.9 477.5,411.6 473.2,410.6 469.5,411.5 465.1,411.1 461.4,410.6 457.6,411.1 453.6,411.1 449.1,411.9 444.9,411.9 441.0,411.6 437.0,411.5 430.7,409.7 425.6,411.2 421.4,413.0 416.2,416.0 410.0,417.7 404.4,417.8 403.0,417.8" fill="#000" fill-opacity="0.6"/>
</g>
<g id="labels">
<text transform="translate(322.6 102.3)" font-size="74" text-anchor="end">1000</text>
<text transform="translate(1961.5 101.6)" font-size="74">100,000</text>
<text transform="translate(322.6 428.9)" font-size="74" text-anchor="end">100</text>
<text transform="translate(322.6 755.5)" font-size="74" text-anchor="end">10</text>
<text transform="translate(1961.5 755.7)" font-size="74">10,000</text>
<text transform="translate(322.6 1081.5)" font-size="74" text-anchor="end">1</text>
<text transform="translate(322.6 1407.7)" font-size="74" text-anchor="end">0.1</text>
<text transform="translate(1961.5 1407.6)" font-size="74">1000</text>
<text transform="translate(400.3 1515.5)" font-size="74" text-anchor="middle">0</text>
<text transform="translate(612.4 1515.5)" font-size="74" text-anchor="middle">2</text>
<text transform="translate(824.5 1515.5)" font-size="74" text-anchor="middle">4</text>
<text transform="translate(1036.6 1515.5)" font-size="74" text-anchor="middle">6</text>
<text transform="translate(1248.7 1515.5)" font-size="74" text-anchor="middle">8</text>
<text transform="translate(1460.8 1515.5)" font-size="74" text-anchor="middle">10</text>
<text transform="translate(1672.9 1515.5)" font-size="74" text-anchor="middle">12</text>
<text transform="translate(1885.0 1515.5)" font-size="74" text-anchor="middle">14</text>
</g>
<g id="titles">
<text y="1638.5" font-size="75"><tspan x="1003.1" textLength="167.1" lengthAdjust="spacingAndGlyphs">Time</tspan><tspan> </tspan><tspan x="1190.3" textLength="89.6" lengthAdjust="spacingAndGlyphs">[h]</tspan></text>
<text y="0" font-size="75" transform="translate(90.5 855.0) rotate(-90)"><tspan x="-3.2" textLength="103.2" lengthAdjust="spacingAndGlyphs">OD</tspan><tspan> </tspan><tspan x="119.9" textLength="73.4" lengthAdjust="spacingAndGlyphs">[-]</tspan></text>
<text y="0" font-size="75" transform="translate(2300 945.7) rotate(-90)"><tspan x="-5.7" textLength="139.1" lengthAdjust="spacingAndGlyphs">Raw</tspan><tspan> </tspan><tspan x="155.1" textLength="191.1" lengthAdjust="spacingAndGlyphs">signal</tspan><tspan> </tspan><tspan x="365.8" textLength="70.5" lengthAdjust="spacingAndGlyphs">[-]</tspan></text>
</g>
<g id="legend">
<line x1="81.5" y1="1721.7" x2="281" y2="1721.7" stroke="#0561aa" stroke-width="6.3" stroke-linecap="round" stroke-dasharray="0.01 16.5"/>
<rect x="160.2" y="1696.2" width="47.9" height="47.9" fill="#0561aa"/>
<text y="1745.5" font-size="75"><tspan x="311.1" textLength="105.0" lengthAdjust="spacingAndGlyphs">OD</tspan><tspan x="417.0" dy="8.2" font-size="45.5" textLength="92.7" lengthAdjust="spacingAndGlyphs" stroke="#000" stroke-width="0.5">600</tspan></text>
<line x1="548" y1="1722.1" x2="756.3" y2="1722.1" stroke="#0561aa" stroke-opacity="0.6" stroke-width="12.4" stroke-linecap="round"/>
<text y="1745.5" font-size="75"><tspan x="776.9" textLength="421.6" lengthAdjust="spacingAndGlyphs">Transformed</tspan><tspan> </tspan><tspan x="1217.6" textLength="192.0" lengthAdjust="spacingAndGlyphs">signal</tspan></text>
<line x1="1455.5" y1="1722.4" x2="1662.5" y2="1722.4" stroke="#000" stroke-opacity="0.6" stroke-width="8.8" stroke-linecap="round"/>
<text y="1745.5" font-size="75"><tspan x="1684.7" textLength="188.8" lengthAdjust="spacingAndGlyphs">Inline</tspan><tspan> </tspan><tspan x="1892.5" textLength="121.8" lengthAdjust="spacingAndGlyphs">raw</tspan><tspan> </tspan><tspan x="2036.5" textLength="190.8" lengthAdjust="spacingAndGlyphs">signal</tspan></text>
</g>
</g>
</svg>
</body></html>
